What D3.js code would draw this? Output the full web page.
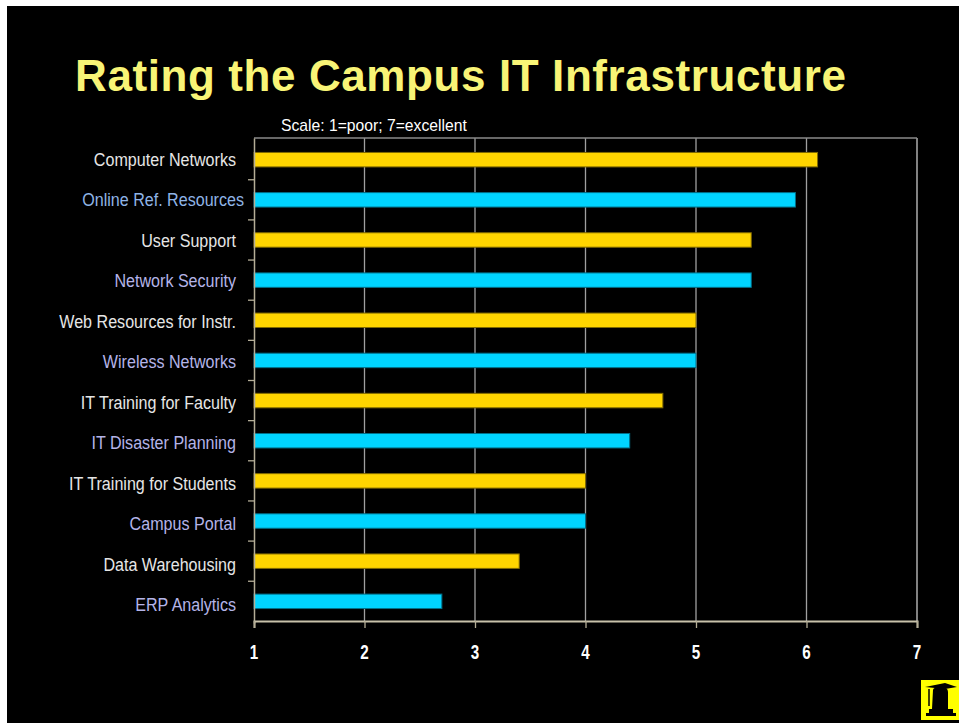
<!DOCTYPE html>
<html><head><meta charset="utf-8">
<script src="https://cdn.jsdelivr.net/npm/d3@7"></script>
<style>html,body{margin:0;padding:0;background:#fff;overflow:hidden}</style>
</head><body>
<script>
const categories = ["Computer Networks","Online Ref. Resources","User Support","Network Security","Web Resources for Instr.","Wireless Networks","IT Training for Faculty","IT Disaster Planning","IT Training for Students","Campus Portal","Data Warehousing","ERP Analytics"];
const values = [6.1,5.9,5.5,5.5,5.0,5.0,4.7,4.4,4.0,4.0,3.4,2.7];
const xTicks = [1,2,3,4,5,6,7];
const titleText = "Rating the Campus IT Infrastructure";
const subtitleText = "Scale: 1=poor; 7=excellent";

const W = 959, H = 723;
const svg = d3.select("body").append("svg").attr("width", W).attr("height", H);
svg.append("rect").attr("x",7).attr("y",6).attr("width",W-7).attr("height",H-6).attr("fill","#000");

const m = {left:254, right:917, top:138, bottom:621};
const x = d3.scaleLinear().domain([1,7]).range([m.left, m.right]);
const y = d3.scaleBand().domain(categories).range([m.top, 623]).paddingInner(0.64).paddingOuter(0.36);
// label rows are spaced slightly wider than the bars
const yLabel = d3.scalePoint().domain(categories).range([166, 611]);

const sans = "'Liberation Sans',Arial,sans-serif";

svg.append("text").attr("x",75).attr("y",90.5).text(titleText)
  .attr("font-family",sans).attr("font-weight","bold").attr("letter-spacing","0.6px")
  .attr("font-size",44).attr("fill","#f8f476");
svg.append("text").attr("x",281).attr("y",130.5).text(subtitleText)
  .attr("font-family",sans).attr("font-size",15.7).attr("fill","#fff");

// grid lines
svg.append("g").selectAll("line").data(xTicks.slice(1)).join("line")
  .attr("x1",d=>x(d)).attr("x2",d=>x(d)).attr("y1",m.top).attr("y2",m.bottom)
  .attr("stroke",d=> d===7 ? "#c8c8c8" : "#a0a0a0").attr("stroke-width",1.3);
// top border
svg.append("line").attr("x1",m.left).attr("x2",m.right).attr("y1",m.top).attr("y2",m.top)
  .attr("stroke","#8a8a8a").attr("stroke-width",1.3);

// bars
const colors = ["#ffd500","#00d4ff"];
const strokes = ["#806a00","#006f88"];
svg.append("g").selectAll("rect").data(categories).join("rect")
  .attr("x", x(1)).attr("y", d=>y(d)).attr("width",(d,i)=>x(values[i])-x(1))
  .attr("height", y.bandwidth()).attr("fill",(d,i)=>colors[i%2])
  .attr("stroke",(d,i)=>strokes[i%2]).attr("stroke-width",1);

// y axis
const yg = svg.append("g").attr("transform",`translate(${m.left},0)`).call(d3.axisLeft(y).tickSize(0).tickFormat(""));
yg.select(".domain").attr("stroke","#b4ad96").attr("stroke-width",1.5);
// condensed category labels
svg.append("g").selectAll("text").data(categories).join("text")
  .attr("transform", (d,i) => `translate(${i===1 ? 244 : 236},${yLabel(d)}) scale(0.87,1)`)
  .attr("text-anchor","end").text(d=>d)
  .attr("font-family",sans).attr("font-size",18.5)
  .attr("fill",(d,i)=> i===1 ? "#8fb4e6" : (i%2 ? "#b4b4e8" : "#e6e6e6"));
// band boundary ticks
const bounds = d3.range(1, categories.length).map(i => y(categories[i]) - y.step()*y.paddingInner()/2);
svg.append("g").selectAll("line").data(bounds).join("line")
  .attr("x1",m.left-6).attr("x2",m.left).attr("y1",d=>d).attr("y2",d=>d)
  .attr("stroke","#b4ad96").attr("stroke-width",1.3);

// x axis
const xg = svg.append("g").attr("transform",`translate(0,${m.bottom})`)
  .call(d3.axisBottom(x).tickValues(xTicks).tickSize(7).tickFormat(""));
xg.select(".domain").attr("stroke","#c8c2aa").attr("stroke-width",2);
xg.selectAll(".tick line").attr("stroke","#b4ad96").attr("stroke-width",1.3);
svg.append("g").selectAll("text").data(xTicks).join("text")
  .attr("transform", d => `translate(${x(d)},659) scale(0.78,1)`)
  .attr("text-anchor","middle").text(d3.format("d"))
  .attr("font-family",sans).attr("font-weight","bold").attr("font-size",19.5).attr("fill","#fff");

// logo
const lg = svg.append("g").attr("transform","translate(921,680)");
lg.append("rect").attr("width",38).attr("height",40).attr("fill","#ffff00");
lg.append("path").attr("d","M4 7 L24 3 L36 7 L24 9 Z").attr("fill","#000");
lg.append("path").attr("d","M12 10 Q12 7 20 7 Q27 7 27 12 L27 29 L11 29 Z").attr("fill","#000");
lg.append("rect").attr("x",8).attr("y",29).attr("width",24).attr("height",4).attr("fill","#000");
lg.append("rect").attr("x",5).attr("y",33).attr("width",30).attr("height",3).attr("fill","#000");
lg.append("line").attr("x1",8).attr("x2",8).attr("y1",9).attr("y2",26).attr("stroke","#000").attr("stroke-width",1.5);
</script>
</body></html>
